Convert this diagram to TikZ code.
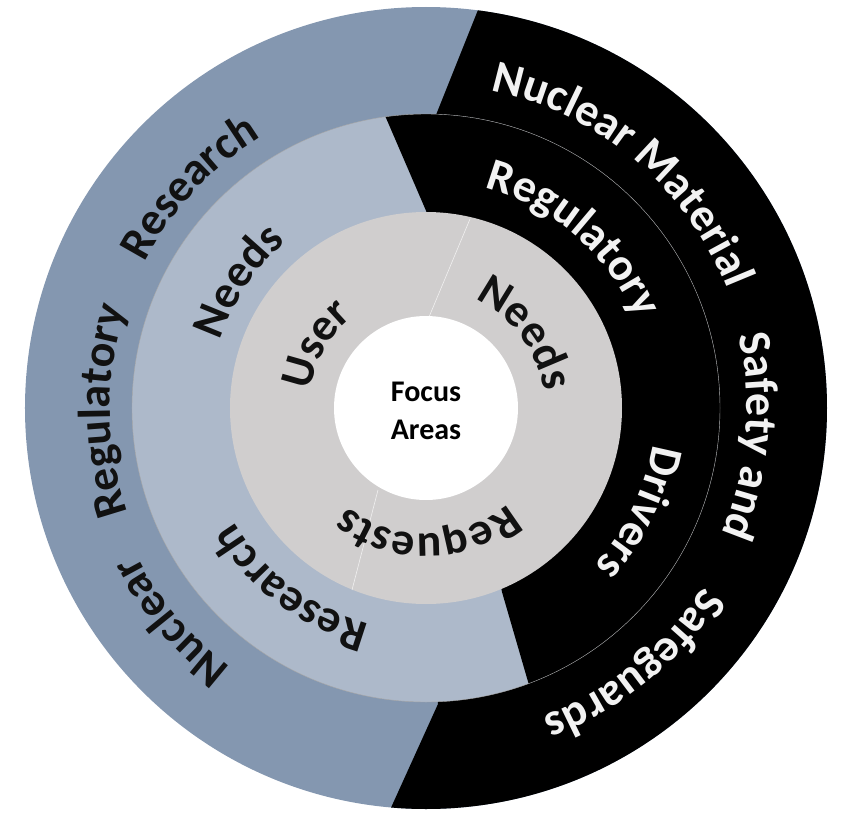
\documentclass[tikz,border=0pt]{standalone}
\usepackage{fontspec}
\setmainfont{Carlito}
\usetikzlibrary{decorations.text}
\definecolor{outerblue}{HTML}{8497B0}
\definecolor{midblue}{HTML}{ADB9CA}
\definecolor{innergray}{HTML}{D0CECE}
\definecolor{darktext}{HTML}{111111}
\definecolor{lighttext}{HTML}{F2F2F2}
\newcommand\ringfont{\bfseries\fontsize{46}{46}\selectfont}
% angle, baseline radius, half span, colour, text
\newcommand\arcword[5]{%
  \path[decorate, decoration={text along path, text align=center,
      text={|\ringfont\color{#4}|#5}}]
    ({#1+#3}:#2pt) arc[start angle={#1+#3}, end angle={#1-#3}, radius=#2pt];
}
\begin{document}
\begin{tikzpicture}[x=1pt,y=1pt]
\useasboundingbox (-426pt,-404pt) rectangle (415pt,408pt);
% outer ring
\fill[outerblue] (0,0) circle[radius=401pt];
\begin{scope}
  \clip (0,0) circle[radius=401pt];
  \fill[black] (66,433) -- (10,293) -- (12,-296) -- (-51,-435) -- (430,-435) -- (430,433) -- cycle;
\end{scope}
% middle ring
\fill[midblue] (0,0) circle[radius=294pt];
\begin{scope}
  \clip (0,0) circle[radius=294pt];
  \fill[black] (-52,318) -- (1,195) -- (76,-184) -- (112,-308) -- (430,-435) -- (430,433) -- cycle;
\end{scope}
\draw[white!65!black, line width=0.4pt] (0,0) circle[radius=294pt];
% inner ring
\fill[innergray] (0,0) circle[radius=196pt];
\draw[white, line width=0.6pt, opacity=0.7] (44,189) -- (3,91);
\draw[white, line width=0.6pt, opacity=0.7] (-48,-82) -- (-74,-182);
\fill[white] (0,0) circle[radius=92pt];
\node[font=\bfseries\fontsize{30}{38}\selectfont, align=center, text=black] (focus) at (0,-3) {Focus\\Areas};
% outer words
\arcword{50}{324}{40}{lighttext}{Nuclear Material}
\arcword{-5}{321}{30}{lighttext}{Safety and}
\arcword{-51}{330}{30}{lighttext}{Safeguards}
\arcword{220}{325}{25}{darktext}{Nuclear}
\arcword{180.5}{316}{30}{darktext}{Regulatory}
\arcword{137}{317}{30}{darktext}{Research}
% middle words
\arcword{49}{228}{40}{lighttext}{Regulatory}
\arcword{-26}{230}{35}{lighttext}{Drivers}
\arcword{233}{223}{40}{darktext}{Research}
\arcword{146}{217}{30}{darktext}{Needs}
% inner words
\arcword{37}{119}{50}{darktext}{Needs}
\arcword{-89}{126}{60}{darktext}{Requests}
\arcword{150}{117}{50}{darktext}{User}
\end{tikzpicture}
\end{document}
